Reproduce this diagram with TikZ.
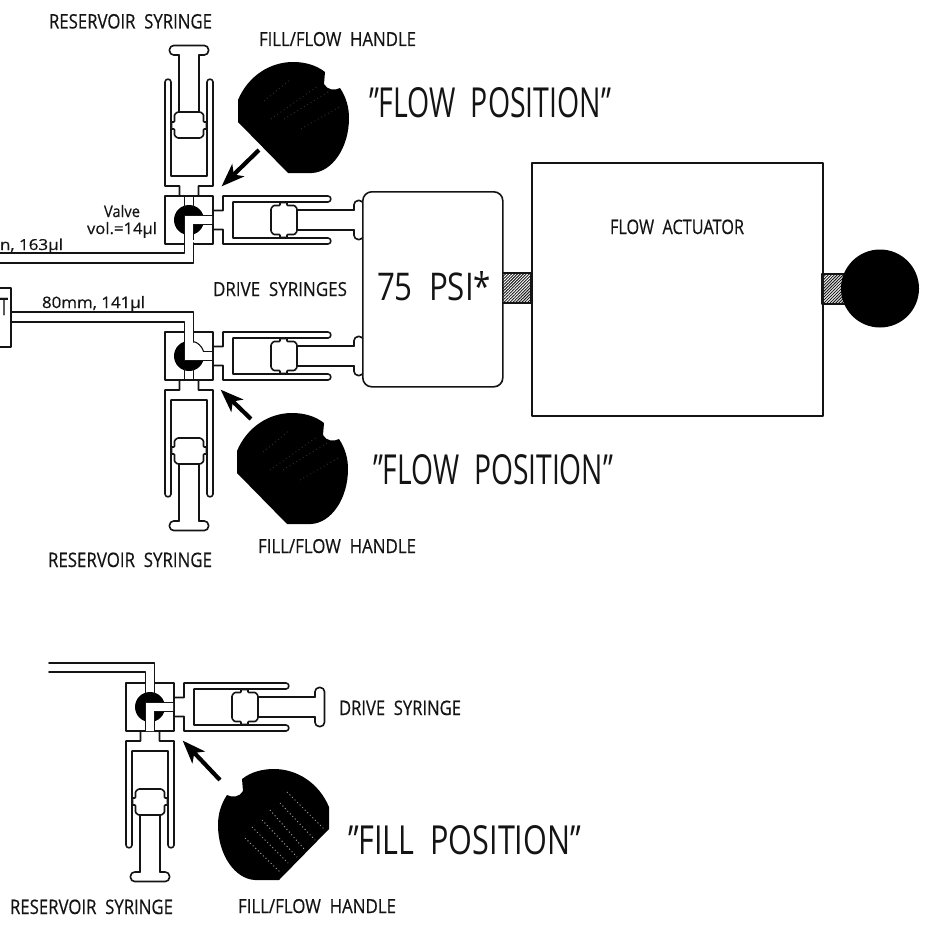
\documentclass[tikz,border=0pt]{standalone}
\usepackage{fontspec}
\usepackage{graphicx}
\setmainfont{Open Sans}
\newfontfamily\labf[FakeBold=0.45]{Open Sans}
\usetikzlibrary{arrows.meta,patterns.meta}
\tikzset{
  ln/.style={line width=1.6pt,draw=black!92,line join=round,line cap=round},
  ptr/.style={line width=4.2pt,draw=black,-{Stealth[length=23pt,width=17pt,inset=6pt]},shorten >=-2pt},
  hatchbar/.style={ln,pattern={Lines[angle=45,distance=2.1pt,line width=.95pt]},pattern color=black!90},
  lab/.style={anchor=base west,inner sep=0pt,outer sep=0pt,text=black!92}
}
\newcommand{\lab}[6]{\node[lab] (#1) at (#2,#3) {\resizebox{#4pt}{#5pt}{\labf #6}};}
\newcommand{\biglab}[6]{\node[lab] (#1) at (#2,#3) {\resizebox{#4pt}{#5pt}{#6}};}
% syringe in local axes: u away from the valve box, v across
\newcommand{\syr}[4]{%
 \begin{scope}[shift={(#1,#2)},rotate=#3]
  \draw[ln] (0,9.5) -- (10,9.5) -- (10,24) -- (#4-3,24) to[out=0,in=0,looseness=1.6] (#4-3,18) -- (20,18) -- (20,-18) -- (#4-3,-18) to[out=0,in=0,looseness=1.6] (#4-3,-24) -- (10,-24) -- (10,-9.5) -- (0,-9.5);
  \draw[ln,rounded corners=.8pt] (58,-11.5) -- (60.5,-14.5) -- (67,-14.5) -- (67,-17.5) -- (74,-17.5) -- (74,-14.5) -- (81.5,-14.5) -- (84,-11.5) -- (84,11.5) -- (81.5,14.5) -- (74,14.5) -- (74,17.5) -- (67,17.5) -- (67,14.5) -- (60.5,14.5) -- (58,11.5) -- cycle;
  \draw[ln] (84,10) -- (141,10) (84,-10) -- (141,-10);
  \draw[ln,rounded corners=4.2pt] (141,10) -- (141,19.5) -- (150.5,19.5) -- (150.5,-19.5) -- (141,-19.5) -- (141,-10);
 \end{scope}}
% valve box, black rotor and the two stub passages
\newcommand{\valvebody}[2]{%
 \begin{scope}[shift={(#1,#2)}]
  \draw[ln] (-24,-24) rectangle (24,24);
  \fill[black] (0,0) circle[radius=15];
  \draw[ln] (12,-4.5) -- (24,-4.5) (12,4.5) -- (24,4.5);
 \end{scope}}
\newcommand{\Lchannel}[2]{%
 \begin{scope}[shift={(#1,#2)}]
  \fill[white] (-4.5,24) -- (-4.5,-4.5) -- (23,-4.5) -- (23,4.5) -- (4.5,4.5) -- (4.5,24) -- cycle;
  \draw[ln] (-4.5,24) -- (-4.5,-4.5) -- (24,-4.5) (24,4.5) -- (4.5,4.5) -- (4.5,24);
  \draw[ln] (-4.5,-24) -- (-4.5,-13) (4.5,-24) -- (4.5,-13);
 \end{scope}}
\newcommand{\handleshape}{%
  \fill[black] (238,100) -- (238,122) -- (288,173) -- (312,173)
   .. controls (332,172) and (349,148) .. (349,118)
   .. controls (349,107) and (346,97) .. (340,88)
   .. controls (335,91) and (327,90) .. (324,84) -- (325,72)
   .. controls (316,65) and (305,62) .. (293,62)
   .. controls (270,62) and (248,76) .. (238,100) -- cycle;}
\newcommand{\faintdots}{%
  \draw[white,opacity=.18,line width=.9pt,dash pattern=on .9pt off 3pt]
   (264,101) -- (291,79) (271,119) -- (318,86) (284,119) -- (328,92) (301,129) -- (341,106);}
\begin{document}
\begin{tikzpicture}[x=1pt,y=-1pt]
\useasboundingbox (0,0) rectangle (931,931);
\fill[white] (0,0) rectangle (931,931);
\clip (0,0) rectangle (931,931);

% ---- flow actuator group
\node[ln,rectangle,minimum width=291pt,minimum height=253pt,inner sep=0pt,anchor=north west] (actuator) at (531,162) {};
\draw[hatchbar] (502,273) rectangle (531,303);
\draw[hatchbar] (822,274) rectangle (845,304);
\node[fill=black,circle,minimum size=78pt,inner sep=0pt] (knob) at (880,288.5) {};

% ---- upper valve
\valvebody{189}{220}
\syr{189}{196}{90}{117}
\syr{213}{220}{0}{118}
\Lchannel{189}{220}
\fill[white] (184.5,240) rectangle (193.5,258);
\draw[ln] (0,253) -- (184.5,253) -- (184.5,243);
\draw[ln] (0,263) -- (193.5,263) -- (193.5,243);

% ---- lower valve
\valvebody{189}{356}
\syr{189}{380}{-90}{117}
\syr{213}{356}{0}{118}
\begin{scope}
 \clip (189,356) circle[radius=15];
 \fill[white] (184.5,335) rectangle (210,360.5);
\end{scope}
\draw[ln,line width=1.1pt] (203.6,351.5) .. controls (202,346) and (197,342) .. (193.5,341.6);
\fill[white] (184.5,325) rectangle (193.5,343);
\fill[white] (203,351.5) rectangle (212,360.5);
\draw[ln] (184.5,338) -- (184.5,360.5) -- (213,360.5) (203.6,351.5) -- (213,351.5);
\draw[ln] (11,312) -- (193.5,312) -- (193.5,342);
\draw[ln] (11,322) -- (184.5,322) -- (184.5,340);
\draw[ln] (184.5,369) -- (184.5,380) (193.5,369) -- (193.5,380);

% ---- pressure box on top of the handles
\node[ln,fill=white,rectangle,rounded corners=9pt,minimum width=140pt,minimum height=195pt,inner sep=0pt,anchor=north west] (pressure) at (362,191) {};

% ---- left box
\draw[ln] (-5,288) -- (11,288) -- (11,347) -- (-5,347);
\lab{boxT}{0}{315}{8}{17}{T}

% ---- fill unit
\valvebody{150}{707}
\syr{150}{731}{-90}{117}
\syr{174}{707}{0}{115}
\Lchannel{150}{707}
\fill[white] (145.5,675) rectangle (154.5,692);
\draw[ln] (49,663) -- (154.5,663) -- (154.5,693);
\draw[ln] (49,672) -- (145.5,672) -- (145.5,693);

% ---- handles
\begin{scope}\handleshape\faintdots\end{scope}
\begin{scope}[shift={(-1,351)}]\handleshape\faintdots\end{scope}
\begin{scope}[shift={(567,707)},xscale=-1]\handleshape\end{scope}
\draw[white,opacity=.6,line width=1pt,dash pattern=on 1pt off 2.6pt]
  (287,792) -- (325,830) (280,803) -- (315,840) (270,810) -- (305,850)
  (262,820) -- (297,857) (252,827) -- (288,863) (245,838) -- (280,872);

% ---- pointers
\coordinate (p1s) at (259,150); \coordinate (p1t) at (223,185);
\coordinate (p2s) at (251,419); \coordinate (p2t) at (222,391);
\coordinate (p3s) at (220,780); \coordinate (p3t) at (184,742);
\draw[ptr] (p1s) -- (p1t);
\draw[ptr] (p2s) -- (p2t);
\draw[ptr] (p3s) -- (p3t);

% ---- labels
\lab{t1}{49}{28.5}{163}{14.5}{RESERVOIR\ \ SYRINGE}
\lab{t2}{259}{46}{157}{14}{FILL/FLOW\ \ HANDLE}
\biglab{t3}{369}{118}{242}{30}{”FLOW\ \ POSITION”}
\lab{t4}{104}{217}{36}{12}{Valve}
\lab{t5}{87}{234}{70}{12}{vol.=14μl}
\lab{t6}{0}{250}{63}{11.5}{n, 163μl}
\lab{t7}{42}{308}{103}{12}{80mm, 141μl}
\lab{t8}{213}{296}{134}{14}{DRIVE\ \ SYRINGES}
\biglab{t9}{377}{300}{114}{29}{75\ \ PSI*}
\lab{t10}{610}{234}{134}{14.5}{FLOW\ \ ACTUATOR}
\biglab{t11}{373}{484}{240}{30}{”FLOW\ \ POSITION”}
\lab{t12}{258}{553}{158}{14}{FILL/FLOW\ \ HANDLE}
\lab{t13}{48}{567}{164}{14.5}{RESERVOIR\ \ SYRINGE}
\lab{t14}{339}{715}{122}{14.5}{DRIVE\ \ SYRINGE}
\biglab{t15}{348}{854}{233}{29}{”FILL\ \ POSITION”}
\lab{t16}{10}{914}{163}{14.5}{RESERVOIR\ \ SYRINGE}
\lab{t17}{238}{913}{158}{14}{FILL/FLOW\ \ HANDLE}
\end{tikzpicture}
\end{document}
